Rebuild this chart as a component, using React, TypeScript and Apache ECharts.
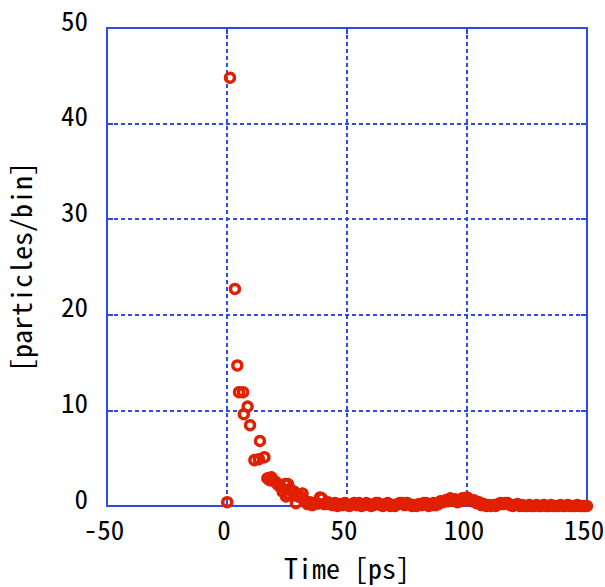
import React, { useEffect, useRef } from "react";
import * as echarts from "echarts";

const xTicks = [-50, 0, 50, 100, 150];
const yTicks = [0, 10, 20, 30, 40, 50];

const timePs = [
  0.1, 1.25, 3.3, 4.3, 5.0, 6.7, 7.0, 8.6, 9.6, 11.4, 13.3, 13.7, 15.6,
  16.8, 17.8, 18.5, 19.5, 20.4, 21.3, 22.3, 23.2, 24.2, 24.6, 25.4, 25.3, 26.3,
  27.4, 28.0, 28.7, 29.5, 30.8, 31.5, 32.5, 33.5, 34.5, 35.5, 36.5, 37.8, 38.8,
  39.5, 40.5, 41.2, 42.0,
  43, 44, 45, 46, 47, 48, 49, 50, 51, 52, 53, 54, 55, 56, 57, 58, 59, 60,
  61, 62, 63, 64, 65, 66, 67, 68, 69, 70, 71, 72, 73, 74, 75, 76, 77, 78, 79, 80,
  81, 82, 83, 84, 85, 86, 87, 88, 89, 90, 91, 92, 93, 94, 95, 96, 97, 98, 99, 100,
  101, 102, 103, 104, 105, 106, 107, 108, 109, 110, 111, 112, 113, 114, 115, 116,
  117, 118, 119, 120, 121, 122, 123, 124, 125, 126, 127, 128, 129, 130, 131, 132,
  133, 134, 135, 136, 137, 138, 139, 140, 141, 142, 143, 144, 145, 146, 147, 148,
  149, 150,
];

const particles = [
  0.4, 44.8, 22.7, 14.7, 11.9, 11.9, 9.6, 10.4, 8.45, 4.8, 4.9, 6.8, 5.1,
  2.9, 2.7, 3.0, 2.6, 2.5, 2.2, 2.0, 1.5, 2.3, 1.0, 2.3, 1.3, 1.8,
  1.5, 1.5, 0.3, 1.0, 0.95, 1.3, 0.5, 0.2, 0.4, 0.1, 0.3, 0.25, 0.9,
  0.8, 0.2, 0.25, 0.4,
  0.2, 0.1, 0.3, 0.0, 0.2, 0.1, 0.3, 0.1, 0.0, 0.2, 0.3, 0.1, 0.3, 0.0, 0.1, 0.3, 0.2, 0.0,
  0.1, 0.3, 0.3, 0.1, 0.0, 0.2, 0.3, 0.0, 0.1, 0.0, 0.2, 0.3, 0.3, 0.1, 0.3, 0.2, 0.0, 0.1, 0.0, 0.2,
  0.1, 0.3, 0.3, 0.0, 0.1, 0.3, 0.1, 0.2, 0.5, 0.4, 0.6, 0.5, 0.8, 0.6, 0.7, 0.4, 0.5, 0.8, 0.6, 0.9,
  0.7, 0.5, 0.6, 0.3, 0.4, 0.1, 0.2, 0.0, 0.1, 0.0, 0.1, 0.0, 0.2, 0.3, 0.2, 0.3,
  0.3, 0.1, 0.0, 0.1, 0.2, 0.0, 0.1, 0.0, 0.0, 0.1, 0.0, 0.0, 0.1, 0.0, 0.0, 0.1,
  0.0, 0.0, 0.1, 0.0, 0.0, 0.0, 0.1, 0.0, 0.0, 0.1, 0.0, 0.0, 0.0, 0.1, 0.0, 0.0,
  0.0, 0.0,
];

const BLUE = "#2b4bea";
const RED = "#e02000";
const FONT = "'Noto Sans Mono CJK JP', 'DejaVu Sans Mono', monospace";

export default function App() {
  const ref = useRef<HTMLDivElement>(null);
  useEffect(() => {
    if (!ref.current) return;
    const chart = echarts.init(ref.current, null, { renderer: "svg" });
    const data = timePs.map((t, i) => [t, particles[i]]);
    const tickStyle = { show: true, inside: true, length: 6, lineStyle: { color: BLUE, width: 2 } };
    const numStyle = { fontFamily: FONT, fontSize: 27, color: "#000", lineHeight: 27 };
    chart.setOption({
      animation: false,
      backgroundColor: "#ffffff",
      grid: { left: 107, right: 18, top: 28, bottom: 81, containLabel: false, outerBoundsMode: "none" },
      xAxis: [
        {
          type: "value",
          min: xTicks[0],
          max: xTicks[xTicks.length - 1],
          interval: 50,
          name: "Time [ps]",
          nameLocation: "middle",
          nameGap: 47,
          nameTextStyle: { fontFamily: FONT, fontSize: 28, color: "#000" },
          axisLine: { show: true, onZero: false, lineStyle: { color: BLUE, width: 2 } },
          axisTick: tickStyle,
          axisLabel: {
            margin: 9,
            formatter: (v: number) => `{n|${v}}{s|}`,
            rich: { n: numStyle, s: { width: 6, height: 1 } },
          },
          splitLine: { show: true, lineStyle: { color: BLUE, width: 2, type: [4, 3] } },
        },
        {
          type: "value",
          position: "top",
          min: xTicks[0],
          max: xTicks[xTicks.length - 1],
          interval: 50,
          axisLine: { show: true, onZero: false, lineStyle: { color: BLUE, width: 2 } },
          axisTick: tickStyle,
          axisLabel: { show: false },
          splitLine: { show: false },
        },
      ],
      yAxis: [
        {
          type: "value",
          min: yTicks[0],
          max: yTicks[yTicks.length - 1],
          interval: 10,
          name: "[particles/bin]",
          nameLocation: "middle",
          nameGap: 73,
          nameRotate: 90,
          nameTextStyle: { fontFamily: FONT, fontSize: 28, color: "#000" },
          axisLine: { show: true, onZero: false, lineStyle: { color: BLUE, width: 2 } },
          axisTick: tickStyle,
          axisLabel: {
            margin: 19,
            formatter: (v: number) => `{n|${v}}\n{s|}`,
            rich: { n: numStyle, s: { fontSize: 1, lineHeight: 18, height: 18 } },
          },
          splitLine: { show: true, lineStyle: { color: BLUE, width: 2, type: [4, 3] } },
        },
        {
          type: "value",
          position: "right",
          min: yTicks[0],
          max: yTicks[yTicks.length - 1],
          interval: 10,
          axisLine: { show: true, onZero: false, lineStyle: { color: BLUE, width: 2 } },
          axisTick: tickStyle,
          axisLabel: { show: false },
          splitLine: { show: false },
        },
      ],
      series: [
        {
          type: "scatter",
          xAxisIndex: 0,
          yAxisIndex: 0,
          data,
          symbol: "circle",
          symbolSize: 9,
          clip: false,
          itemStyle: { color: "rgba(255,255,255,0)", borderColor: RED, borderWidth: 3.4, opacity: 1 },
          z: 5,
        },
      ],
    });
    return () => chart.dispose();
  }, []);
  return (
    <div
      ref={ref}
      style={{ position: "fixed", left: 0, top: 0, width: 605, height: 587, background: "#fff" }}
    />
  );
}
